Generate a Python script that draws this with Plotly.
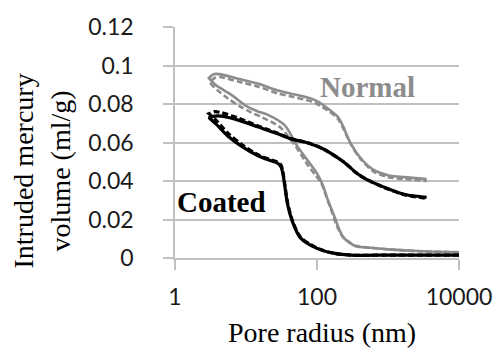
import plotly.graph_objects as go

# ---- data (pore radius in nm, intruded volume in ml/g) ----
# Normal sample, run 1 (solid): intrusion (large -> small radius), then extrusion (small -> large)
normal1_intr_r = [10000, 3000, 1000, 500, 360, 300, 236, 200, 170, 146, 120, 100, 80, 53, 35, 20, 15, 10, 6.3, 3.8, 3.0]
normal1_intr_v = [0.0030, 0.0035, 0.0045, 0.0055, 0.0060, 0.0075, 0.0106, 0.0160, 0.0230, 0.0290, 0.0380, 0.0440, 0.0490, 0.0580, 0.0690, 0.0745, 0.0760, 0.0790, 0.0846, 0.0897, 0.0935]
normal1_extr_r = [3.0, 3.5, 4.2, 8, 15, 28, 42, 80, 100, 150, 200, 236, 285, 390, 610, 1000, 1700, 3500]
normal1_extr_v = [0.0935, 0.0955, 0.0955, 0.0930, 0.0905, 0.0870, 0.0855, 0.0830, 0.0815, 0.0770, 0.0730, 0.0680, 0.0610, 0.0530, 0.0460, 0.0430, 0.0420, 0.0410]

# Normal sample, run 2 (dashed)
normal2_intr_r = [10000, 3000, 1000, 500, 340, 280, 220, 185, 155, 135, 115, 95, 75, 50, 30, 17, 12, 8, 5.5, 4.0, 3.1]
normal2_intr_v = [0.0030, 0.0035, 0.0045, 0.0055, 0.0065, 0.0085, 0.0120, 0.0180, 0.0260, 0.0320, 0.0390, 0.0430, 0.0480, 0.0580, 0.0680, 0.0730, 0.0755, 0.0790, 0.0830, 0.0870, 0.0910]
normal2_extr_r = [3.1, 3.6, 4.2, 8, 15, 28, 42, 80, 100, 150, 200, 236, 300, 400, 620, 1000, 1700, 3500]
normal2_extr_v = [0.0910, 0.0935, 0.0940, 0.0915, 0.0890, 0.0855, 0.0840, 0.0815, 0.0800, 0.0760, 0.0720, 0.0670, 0.0590, 0.0520, 0.0450, 0.0420, 0.0410, 0.0400]

# Coated sample, run 1 (solid)
coated1_intr_r = [10000, 3000, 1000, 300, 170, 100, 58, 45, 38.6, 35, 33, 31, 27, 22.5, 15, 8.7, 5.7, 3.8, 3.0]
coated1_intr_v = [0.0015, 0.0015, 0.0015, 0.0015, 0.0025, 0.0050, 0.0106, 0.0190, 0.0277, 0.0380, 0.0440, 0.0475, 0.0495, 0.0505, 0.0530, 0.0580, 0.0630, 0.0695, 0.0730]
coated1_extr_r = [3.0, 3.6, 4.5, 8, 15, 28, 42, 80, 125, 236, 356, 490, 1000, 1740, 3500]
coated1_extr_v = [0.0730, 0.0737, 0.0737, 0.0715, 0.0680, 0.0645, 0.0620, 0.0594, 0.0565, 0.0500, 0.0443, 0.0410, 0.0360, 0.0330, 0.0315]

# Coated sample, run 2 (dashed)
coated2_intr_r = [10000, 3000, 1000, 300, 170, 100, 58, 45, 38.6, 35, 33, 31, 27, 22.5, 15, 8.7, 5.7, 3.8, 3.0]
coated2_intr_v = [0.0015, 0.0015, 0.0015, 0.0015, 0.0025, 0.0052, 0.0110, 0.0195, 0.0285, 0.0390, 0.0450, 0.0485, 0.0500, 0.0510, 0.0535, 0.0590, 0.0645, 0.0715, 0.0750]
coated2_extr_r = [3.0, 3.6, 4.5, 8, 15, 28, 42, 80, 125, 236, 356, 490, 1000, 1740, 3500]
coated2_extr_v = [0.0750, 0.0760, 0.0755, 0.0725, 0.0685, 0.0648, 0.0622, 0.0595, 0.0565, 0.0500, 0.0443, 0.0410, 0.0358, 0.0328, 0.0310]

y_ticks = [0, 0.02, 0.04, 0.06, 0.08, 0.1, 0.12]
y_tick_text = ["0", "0.02", "0.04", "0.06", "0.08", "0.1", "0.12"]
x_ticks = [1, 100, 10000]
x_tick_text = ["1", "100", "10000"]

GRAY = "#8c8c8c"
BLACK = "#000000"

fig = go.Figure()

def add_loop(ir, iv, er, ev, color, dash, width):
    fig.add_trace(go.Scatter(
        x=ir + er, y=iv + ev, mode="lines",
        line=dict(color=color, dash=dash, width=width, shape="spline", smoothing=0.8),
        showlegend=False, hoverinfo="skip"))

add_loop(normal2_intr_r, normal2_intr_v, normal2_extr_r, normal2_extr_v, GRAY, "6px,3px", 2.6)
add_loop(normal1_intr_r, normal1_intr_v, normal1_extr_r, normal1_extr_v, GRAY, "solid", 2.6)
add_loop(coated2_intr_r, coated2_intr_v, coated2_extr_r, coated2_extr_v, BLACK, "6px,3px", 3.2)
add_loop(coated1_intr_r, coated1_intr_v, coated1_extr_r, coated1_extr_v, BLACK, "solid", 3.2)

tick_font = dict(family="Lato, 'Open Sans', sans-serif", size=23, color="#1a1a1a")
serif = "'Liberation Serif', 'Times New Roman', serif"

fig.update_xaxes(
    type="log", range=[0, 4],
    tickvals=x_ticks, ticktext=x_tick_text,
    ticks="outside", ticklen=10, tickwidth=1.5, tickcolor="#c0c0c0",
    showline=True, linecolor="#c0c0c0", linewidth=1.5,
    showgrid=False, zeroline=False, tickfont=tick_font,
    ticklabelstandoff=8,
)
fig.update_yaxes(
    range=[0, 0.12],
    tickvals=y_ticks, ticktext=y_tick_text,
    ticks="outside", ticklen=10, tickwidth=1.5, tickcolor="#c0c0c0",
    showline=True, linecolor="#c0c0c0", linewidth=1.5,
    showgrid=True, gridcolor="#c0c0c0", gridwidth=1.5, zeroline=False,
    tickfont=tick_font, ticklabelstandoff=25,
)

fig.add_annotation(text="Intruded mercury<br>volume (ml/g)", xref="paper", yref="paper",
                   x=-0.469, y=0.378, xanchor="center", yanchor="middle", textangle=-90,
                   showarrow=False, font=dict(family=serif, size=28, color="#000000"))
fig.add_annotation(text="Pore radius (nm)", xref="paper", yref="paper",
                   x=0.517, y=-0.3235, xanchor="center", yanchor="middle",
                   showarrow=False, font=dict(family=serif, size=28, color="#000000"))
fig.add_annotation(text="<b>Normal</b>", xref="paper", yref="paper",
                   x=0.679, y=0.739, xanchor="center", yanchor="middle",
                   showarrow=False, font=dict(family=serif, size=29, color=GRAY))
fig.add_annotation(text="<b>Coated</b>", xref="paper", yref="paper",
                   x=0.162, y=0.244, xanchor="center", yanchor="middle",
                   showarrow=False, font=dict(family=serif, size=29, color=BLACK))

fig.update_layout(
    width=504, height=353,
    margin=dict(l=175, r=39, t=20, b=95),
    paper_bgcolor="white", plot_bgcolor="white",
)

fig.write_html("out.html")
